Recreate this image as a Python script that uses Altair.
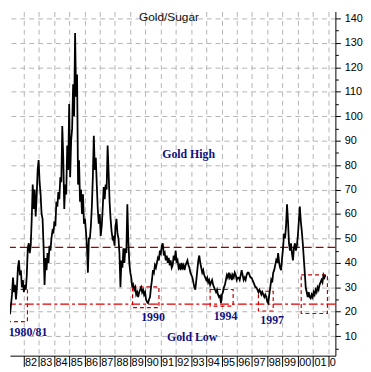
import altair as alt
import numpy as np
import pandas as pd

# Gold/Sugar ratio (roughly every 3.4 weeks, Aug 1980 - Oct 2001)
ratio = [
    16, 17, 15, 18, 16, 20, 18, 21, 19, 23,
    27, 34, 28, 31, 25, 30, 38, 41, 35, 37,
    30, 33, 28, 31, 29, 35, 46, 48, 44, 47,
    58, 72, 62, 70, 59, 67, 78, 82, 73, 68,
    60, 58, 47, 31, 42, 37, 44, 40, 47, 45,
    50, 53, 52, 57, 55, 65, 63, 69, 66, 75,
    73, 96, 83, 62, 72, 68, 88, 78, 105, 75,
    90, 95, 113, 100, 134, 108, 117, 72, 82, 65,
    70, 60, 68, 56, 58, 53, 47, 36, 50, 50,
    55, 63, 75, 92, 78, 83, 72, 62, 56, 60,
    51, 55, 62, 71, 66, 72, 70, 88, 77, 65,
    58, 53, 50, 51, 47, 55, 58, 52, 50, 44,
    30, 41, 38, 46, 40, 46, 44, 64, 49, 40,
    36, 34, 30, 31, 29, 30, 27, 28, 26, 28,
    29, 30, 28, 29, 27, 28, 25, 24, 23.5, 25,
    26, 30, 33, 37, 36, 39, 38, 40, 42, 41,
    45, 44, 47, 48, 43, 44, 41, 43, 40, 42,
    39, 41, 38, 39, 43, 41, 45, 40, 41, 38,
    39, 37, 40, 38, 39, 37, 39, 40, 41, 39,
    38, 36, 35, 34, 32, 30, 29, 33, 37, 41,
    43, 40, 38, 36, 37, 35, 34, 33, 34, 32,
    33, 31, 32, 33, 31, 30, 29, 28, 29, 27,
    26, 26.5, 23.5, 27, 28, 30, 31, 33, 35, 34,
    36, 34, 35, 33, 35, 34, 36, 35, 33, 34,
    34, 33, 35, 37, 35, 33, 34, 33, 35, 36,
    36, 35, 34, 34, 33, 32, 31, 30, 30, 29,
    28, 29, 28, 27, 28, 27, 26, 27, 26, 24,
    23.5, 27, 30, 33, 32, 36, 37, 39, 41, 40,
    44, 40, 38, 37, 42, 46, 52, 50, 55, 64,
    57, 48, 45, 48, 44, 41, 46, 48, 45, 47,
    51, 57, 63, 57, 53, 48, 42, 36, 30, 28,
    26, 28, 26, 25.5, 27, 26, 28, 27, 29, 28,
    30, 29, 31, 32, 33, 32, 35, 34, 35,
]
first_year, last_year = 1980.60, 2001.82
years = np.linspace(first_year, last_year, len(ratio))

high_level = [46.3]
low_level = [23.1]

box_x1 = [1980.0, 1989.16, 1994.25, 1997.42, 2000.23]
box_x2 = [1982.26, 1990.89, 1995.76, 1998.39, 2001.95]
box_lo = [16.0, 21.7, 22.3, 20.3, 19.3]
box_hi = [29.1, 30.2, 29.1, 28.4, 35.1]

note_text = ["1980/81", "1990", "1994", "1997", "Gold High", "Gold Low"]
note_year = [1982.3, 1990.50, 1995.26, 1998.32, 1992.84, 1993.07]
note_value = [11.5, 17.8, 18.3, 16.6, 84.3, 9.7]

title_text = ["Gold/Sugar"]
title_year = [1991.55]
title_value = [138.8]

x_ticks = list(range(1982, 2003))
y_ticks = list(range(5, 145, 5))

xs = alt.Scale(domain=[1981.113, 2002.472], nice=False, zero=False)
ys = alt.Scale(domain=[2.05, 142.8], nice=False, zero=False)

xaxis = alt.Axis(
    values=x_ticks,
    labelExpr="datum.value == 2002 ? '0' : substring(toString(datum.value), 2, 4)",
    grid=True, gridColor="#b4b4b4", gridDash=[5, 4], gridWidth=1,
    tickSize=11, tickColor="black", domainColor="black",
    labelAlign="left", labelBaseline="top", labelPadding=-10, labelOffset=1,
    labelFlush=False, labelOverlap=False, labelBound=False,
    labelFont="Liberation Sans", labelFontSize=11, labelColor="black",
)
yaxis = alt.Axis(
    orient="right",
    values=y_ticks,
    labelExpr="datum.value % 10 == 0 ? datum.label : ''",
    grid=True, gridColor="#b4b4b4", gridDash=[5, 4], gridWidth=1,
    gridOpacity={"condition": {"test": "datum.value % 10 == 0", "value": 1}, "value": 0},
    tickSize={"condition": {"test": "datum.value % 10 == 0", "value": 5}, "value": 3},
    tickColor="black", domainColor="black",
    labelPadding=4, labelOverlap=False,
    labelFont="Liberation Sans", labelFontSize=11, labelColor="black",
)


def X(field):
    return alt.X(field, type="quantitative", scale=xs, axis=xaxis, title=None)


def Y(field):
    return alt.Y(field, type="quantitative", scale=ys, axis=yaxis, title=None)


series = pd.DataFrame({"year": years, "value": ratio})
boxes = pd.DataFrame({"x1": box_x1, "x2": box_x2, "lo": box_lo, "hi": box_hi})
notes = pd.DataFrame({"year": note_year, "value": note_value, "text": note_text})
title_df = pd.DataFrame({"year": title_year, "value": title_value, "text": title_text})

box_layer = alt.Chart(boxes).mark_rect(
    fill="transparent", stroke="#c00000", strokeDash=[4, 3], strokeWidth=1.2, clip=True
).encode(x=X("x1"), x2="x2", y=Y("lo"), y2="hi")

high_rule = alt.Chart(pd.DataFrame({"v": high_level})).mark_rule(
    color="#a00000", strokeDash=[8, 4], strokeWidth=1.2
).encode(y=Y("v"))

low_rule = alt.Chart(pd.DataFrame({"v": low_level})).mark_rule(
    color="#e00000", strokeDash=[9, 3, 3, 3], strokeWidth=1.2
).encode(y=Y("v"))

line = alt.Chart(series).mark_line(
    color="black", strokeWidth=1.8, clip=True
).encode(x=X("year"), y=Y("value"))

note_layer = alt.Chart(notes).mark_text(
    font="Liberation Serif", fontWeight="bold", fontSize=12, color="#10107f",
    align="center", baseline="middle"
).encode(x=X("year"), y=Y("value"), text="text:N")

title_layer = alt.Chart(title_df).mark_text(
    font="Liberation Sans", fontSize=12, color="#111111",
    align="center", baseline="alphabetic"
).encode(x=X("year"), y=Y("value"), text="text:N")

chart = alt.layer(
    box_layer, high_rule, low_rule, line, note_layer, title_layer
).properties(width=330, height=349, padding=0).configure_view(stroke=None)

chart.save("out.html", embed_options={"renderer": "svg", "actions": False})
